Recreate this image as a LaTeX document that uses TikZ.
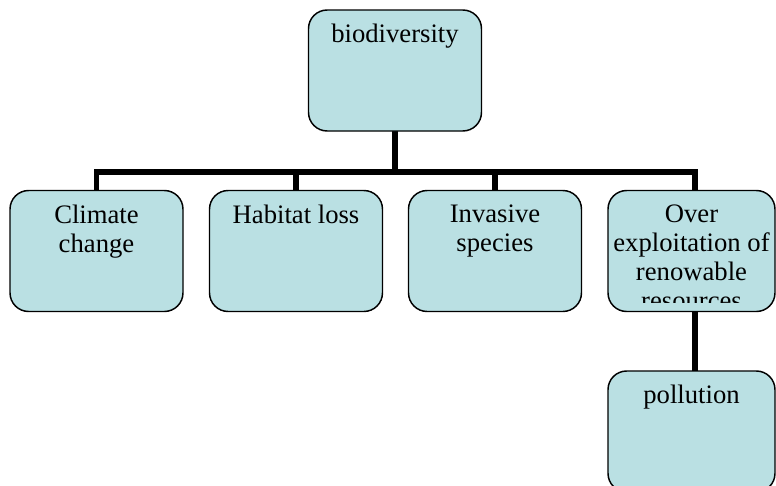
\documentclass[tikz,border=0pt]{standalone}
\usepackage{fontspec}
\setmainfont{Liberation Serif}
\definecolor{boxfill}{RGB}{186,224,227}
\begin{document}
\begin{tikzpicture}[x=0.75pt,y=-0.75pt,
  box/.style={draw=black, line width=1.1pt, fill=boxfill, rounded corners=14pt,
    minimum width=#1*0.75pt, minimum height=121*0.75pt, inner sep=0pt},
  box/.default=173,
  lbl/.style={anchor=north, inner sep=0pt, align=center, text=black,
    font=\fontsize{20}{21.8}\selectfont},
  conn/.style={draw=black, line width=4.2pt, line join=miter}]
\clip (0,0) rectangle (776,486);
\fill[white] (0,0) rectangle (776,486);
% box positions
\path (395,70.5) coordinate (pbio)
      (96.5,251) coordinate (pcc)
      (296,251) coordinate (phl)
      (495,251) coordinate (pinv)
      (691.5,251) coordinate (pov)
      (691.5,431.5) coordinate (ppol)
      (395,172) coordinate (bus)
      (695,251) coordinate (ovline);
% connectors (behind boxes)
\draw[conn] (pbio) -- (pbio |- bus);
\draw[conn] (pcc) -- (pcc |- bus) -- (ovline |- bus) -- (ovline);
\draw[conn] (phl) -- (phl |- bus);
\draw[conn] (pinv) -- (pinv |- bus);
\draw[conn] (ovline) -- (ovline |- ppol);
% boxes
\node[box] (bio) at (pbio) {};
\node[box] (cc) at (pcc) {};
\node[box] (hl) at (phl) {};
\node[box] (inv) at (pinv) {};
\node[box=167] (ov) at (pov) {};
\node[box=167] (pol) at (ppol) {};
% labels
\node[lbl] (tbio) at ([yshift=-11pt]bio.north) {biodiversity};
\node[lbl] (tcc) at ([yshift=-11pt]cc.north) {Climate\\change};
\node[lbl] (thl) at ([yshift=-11pt]hl.north) {Habitat loss};
\node[lbl] (tinv) at ([yshift=-11pt]inv.north) {Invasive\\species};
\begin{scope}
\clip (608,191) rectangle (776,302.5);
\node[lbl] (tov) at ([yshift=-11pt]ov.north) {Over\\exploitation of\\renowable\\resources};
\end{scope}
\node[lbl] (tpol) at ([yshift=-11pt]pol.north) {pollution};
\end{tikzpicture}
\end{document}
